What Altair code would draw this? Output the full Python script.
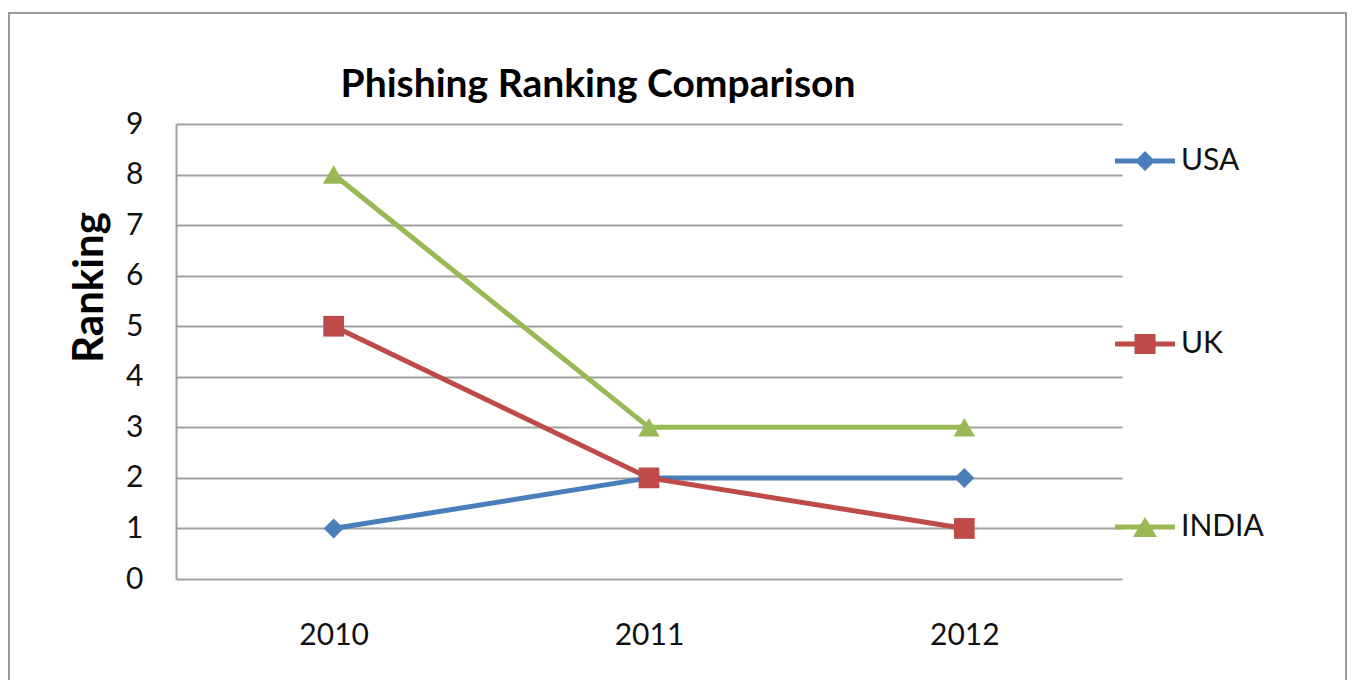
import altair as alt
import pandas as pd

years = ["2010", "2011", "2012"]
series = ["USA", "UK", "INDIA"]
usa = [1, 2, 2]
uk = [5, 2, 1]
india = [8, 3, 3]
y_ticks = [0, 1, 2, 3, 4, 5, 6, 7, 8, 9]

colors = ["#4A7EBB", "#BE4B48", "#98B954"]
shapes = ["diamond", "square", "triangle-up"]
marker_sizes = [400, 460, 440]
legend_paths = [
    "M-3,-0.25L3,-0.25L3,0.25L-3,0.25Z M-1,0L0,-1L1,0L0,1Z",
    "M-3,-0.25L3,-0.25L3,0.25L-3,0.25Z M-1.05,-1L1.05,-1L1.05,1L-1.05,1Z",
    "M-3,-0.25L3,-0.25L3,0.25L-3,0.25Z M0,-1L1.2,1L-1.2,1Z",
]

rows = []
for name, vals in zip(series, [usa, uk, india]):
    for yr, v in zip(years, vals):
        rows.append({"Year": yr, "Country": name, "Ranking": v})
df = pd.DataFrame(rows)

FONT = "Lato"
GRID = "#a0a0a0"

x_enc = alt.X(
    "Year:O", sort=years,
    scale=alt.Scale(type="point", padding=0.5),
    axis=alt.Axis(title=None, labelAngle=0, ticks=False, domain=False, grid=False,
                  labelPadding=41, labelFontSize=30, labelFont=FONT, labelColor="#111"),
)
y_enc = alt.Y(
    "Ranking:Q",
    scale=alt.Scale(domain=[0, 9], nice=False),
    axis=alt.Axis(values=y_ticks, title="Ranking", ticks=False, domain=True,
                  domainColor=GRID, domainWidth=2, gridColor=GRID, gridWidth=2,
                  labelPadding=33, labelFontSize=30, labelFont=FONT, labelColor="#111",
                  titleFont=FONT, titleFontSize=42, titleFontWeight="bold",
                  titleColor="#000", titlePadding=14, titleY=163),
)

color_scale = alt.Scale(domain=series, range=colors)

base = alt.Chart(df).encode(x=x_enc, y=y_enc)

lines = base.mark_line(strokeWidth=5).encode(
    color=alt.Color("Country:N", scale=color_scale, legend=None),
    detail="Country:N",
)

points = base.mark_point(filled=True, opacity=1).encode(
    color=alt.Color("Country:N", scale=color_scale, legend=None),
    shape=alt.Shape("Country:N", scale=alt.Scale(domain=series, range=shapes), legend=None),
    size=alt.Size("Country:N", scale=alt.Scale(domain=series, range=marker_sizes), legend=None),
)

leg = dict(orient="none", legendX=954, legendY=22, title=None, labelFont=FONT,
           labelFontSize=30, labelColor="#111", symbolSize=400, rowPadding=153,
           labelOffset=21, symbolStrokeWidth=0, symbolOpacity=1, padding=0)

legend_layer = base.transform_filter("false").mark_point(filled=True, opacity=1).encode(
    color=alt.Color("Country:N", scale=color_scale, legend=alt.Legend(**leg)),
    shape=alt.Shape("Country:N", scale=alt.Scale(domain=series, range=legend_paths),
                    legend=alt.Legend(**leg)),
)

border = alt.Chart(alt.Data(values=[{}])).mark_rect(
    fillOpacity=0, stroke="#9a9a9a", strokeWidth=2
).encode(x=alt.value(-167), x2=alt.value(1170), y=alt.value(-111), y2=alt.value(640))

chart = alt.layer(border, lines, points, legend_layer).resolve_scale(
    color="independent", shape="independent", size="independent"
).properties(
    width=946, height=455,
    autosize="none",
    padding={"left": 168, "top": 116, "right": 225, "bottom": 101},
    title=alt.TitleParams("Phishing Ranking Comparison", font=FONT, fontSize=39,
                          fontWeight="bold", color="#000", anchor="middle",
                          frame="group", dx=-51, offset=-93),
    background="white",
).configure_view(stroke=None)

chart.save("out.html", embed_options={"renderer": "svg", "actions": False})
